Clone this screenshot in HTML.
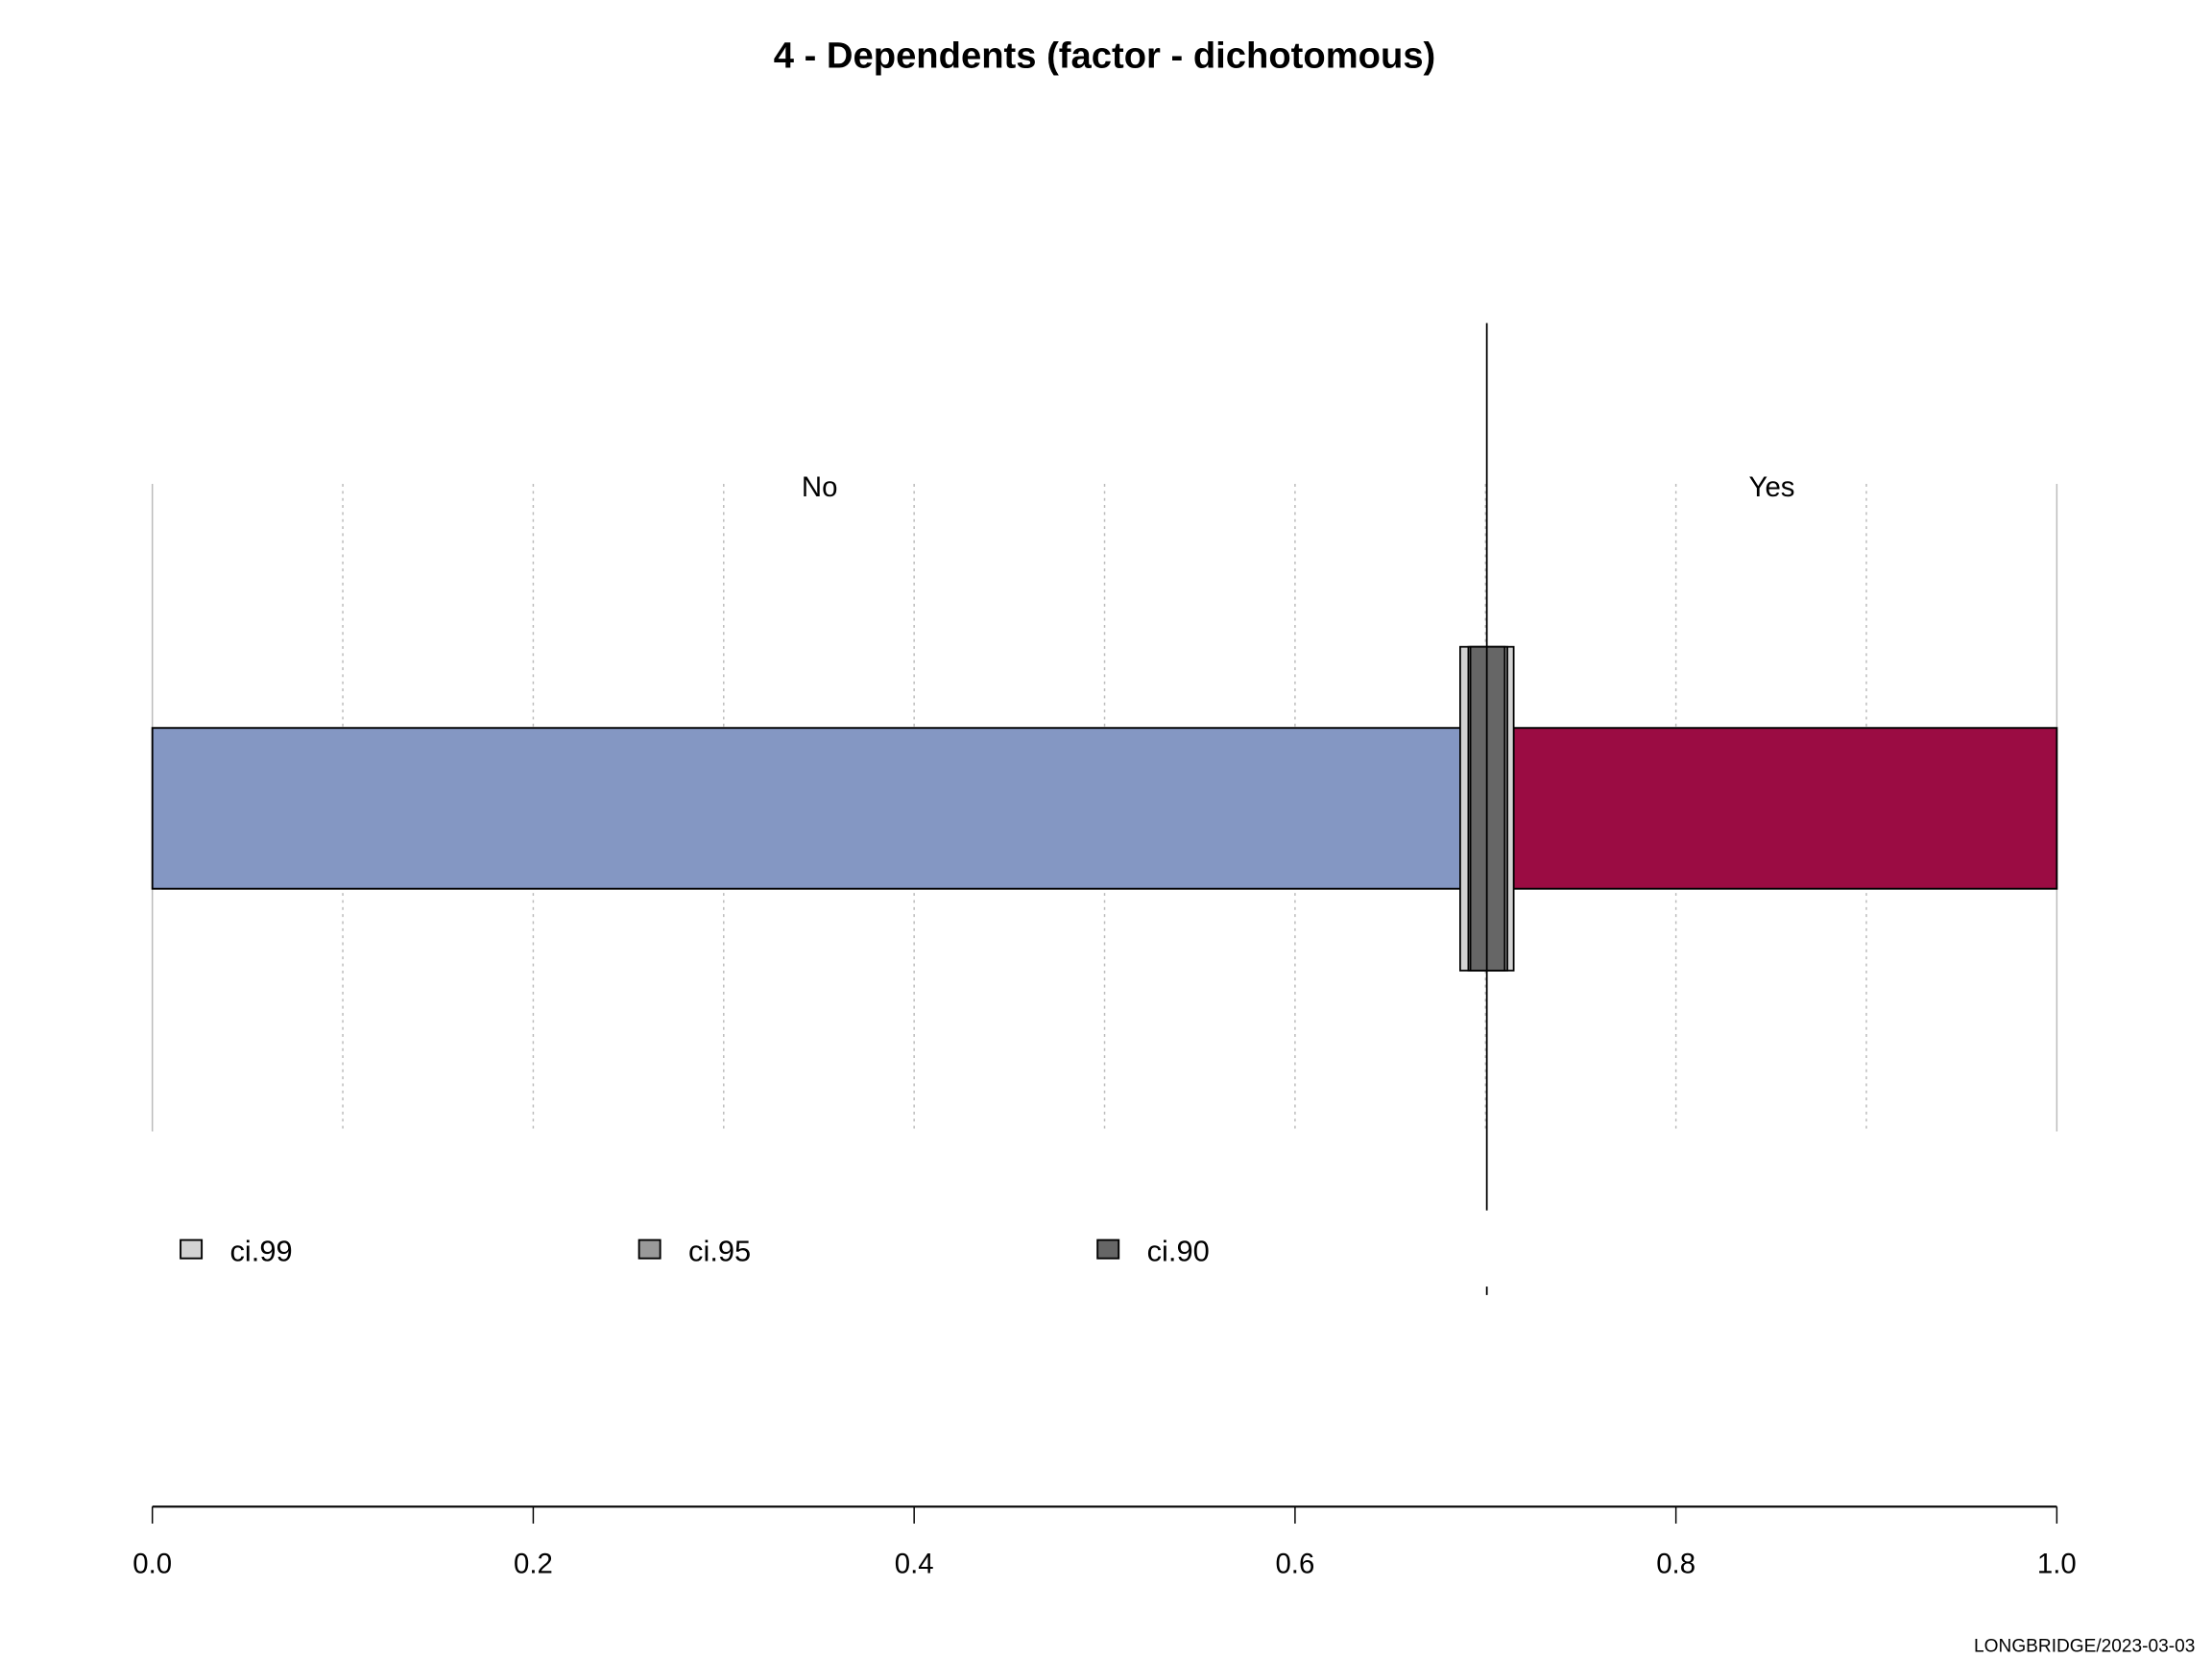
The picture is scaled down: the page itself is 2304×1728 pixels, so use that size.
<!DOCTYPE html>
<html><head><meta charset="utf-8"><style>
html,body{margin:0;padding:0;background:#fff}
svg{display:block}
text{font-family:"Liberation Sans",Arial,sans-serif}
</style></head><body>
<svg id="chart" width="2304" height="1728" viewBox="0 0 1568 1176" xmlns="http://www.w3.org/2000/svg">
<rect width="1568" height="1176" fill="#fff"/>
<text x="783" y="48" text-anchor="middle" font-size="26" font-weight="bold">4 - Dependents (factor - dichotomous)</text>
<g id="grid"></g>
<g id="bars"></g>
<g id="ci"></g>
<g id="axis"></g>
<g id="legend"></g>
<text x="1556" y="1171" text-anchor="end" font-size="13">LONGBRIDGE/2023-03-03</text>
</svg>
<script>
const categories = ["No", "Yes"];
const proportions = [0.7007, 0.2993];
const ciNames = ["ci.99", "ci.95", "ci.90"];
const ciLower = [0.6867, 0.6910, 0.6921];
const ciUpper = [0.7148, 0.7115, 0.7101];
const tickLabels = ["0.0", "0.2", "0.4", "0.6", "0.8", "1.0"];
const tickValues = [0, 0.2, 0.4, 0.6, 0.8, 1.0];

const NS = "http://www.w3.org/2000/svg";
const X0 = 108, X1 = 1458;
const x = v => X0 + v * (X1 - X0);
function mk(tag, attrs, parent, txt) {
  const e = document.createElementNS(NS, tag);
  for (const k in attrs) e.setAttribute(k, attrs[k]);
  if (txt !== undefined) e.textContent = txt;
  parent.appendChild(e);
  return e;
}
const grid = document.getElementById('grid');
for (let i = 0; i <= 10; i++) {
  const edge = (i === 0 || i === 10);
  const g = mk('line', {x1: x(i/10), x2: x(i/10), y1: 343, y2: 802, stroke: '#bbb', 'stroke-width': 1, 'stroke-dasharray': edge ? 'none' : '2,3'}, grid);
  
  
}
const bars = document.getElementById('bars');
const colors = ["#8497c3", "#9b0c43"];
let cum = 0;
const yesStart = ciUpper[0];
categories.forEach((c, i) => {
  const start = i === 0 ? 0 : yesStart;
  const end = i === 0 ? proportions[0] : cum + proportions[i];
  const r = mk('rect', {x: x(start), y: 516, width: x(end) - x(start), height: 114, fill: colors[i], stroke: '#000', 'stroke-width': 1.3}, bars);
  
  
  const t = mk('text', {x: x(cum + proportions[i] / 2), y: 352, 'text-anchor': 'middle', 'font-size': 20}, bars, c);
  
  
  cum += proportions[i];
});
const ci = document.getElementById('ci');
const ciFill = ["#d3d3d3", "#999999", "#666666"];
const mean = proportions[0];
const dl = mk('line', {x1: x(mean), x2: x(mean), y1: 229, y2: 858, stroke: '#000', 'stroke-width': 1.2}, ci);


ciNames.forEach((n, i) => {
  const r = mk('rect', {x: x(ciLower[i]), y: 458.5, width: x(ciUpper[i]) - x(ciLower[i]), height: 229.5, fill: ciFill[i], stroke: '#000', 'stroke-width': 1.2}, ci);
  
  
});
const ml = mk('line', {x1: x(mean), x2: x(mean), y1: 458.5, y2: 688, stroke: '#000', 'stroke-width': 1.2}, ci);


const st = mk('line', {x1: x(mean), x2: x(mean), y1: 912, y2: 918, stroke: '#000', 'stroke-width': 1.2}, ci);



const axis = document.getElementById('axis');
const al = mk('line', {x1: X0, x2: X1, y1: 1068, y2: 1068, stroke: '#000', 'stroke-width': 1.5}, axis);


tickValues.forEach((v, i) => {
  const tk = mk('line', {x1: x(v), x2: x(v), y1: 1068, y2: 1080, stroke: '#000', 'stroke-width': 1}, axis);
  
  
  const tl = mk('text', {x: x(v), y: 1115, 'text-anchor': 'middle', 'font-size': 20}, axis, tickLabels[i]);
  
  
});
const legend = document.getElementById('legend');
const lx = [128, 453, 778];
ciNames.forEach((n, i) => {
  const s = mk('rect', {x: lx[i], y: 879, width: 15, height: 13, fill: ciFill[i], stroke: '#000', 'stroke-width': 1.3}, legend);
  
  
  const t = mk('text', {x: lx[i] + 35, y: 894, 'font-size': 21}, legend, n);
  
  
});
</script>
</body></html>
